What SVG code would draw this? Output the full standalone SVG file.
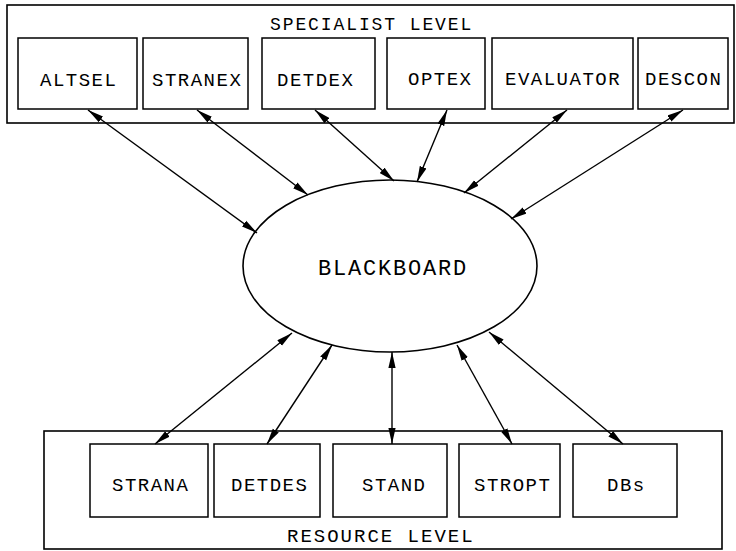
<svg xmlns="http://www.w3.org/2000/svg" width="736" height="551" viewBox="0 0 736 551">
  <defs>
    <marker id="head" viewBox="0 0 16 8" refX="16" refY="4" markerWidth="16" markerHeight="8" markerUnits="userSpaceOnUse" orient="auto-start-reverse">
      <path d="M0,0.4 L16,4 L0,7.6 z" fill="#000"/>
    </marker>
  </defs>
  <style>
    .frame { fill: #fff; stroke: #000; stroke-width: 1.6; }
    .box { fill: #fff; stroke: #000; stroke-width: 1.5; }
    .lbl { font-family: "Liberation Mono", "DejaVu Sans Mono", monospace; font-size: 19px; letter-spacing: 1.5px; fill: #000; }
    .lvl { font-family: "Liberation Mono", "DejaVu Sans Mono", monospace; font-size: 18px; letter-spacing: 1.9px; fill: #000; }
    .link { fill: none; stroke: #000; stroke-width: 1.4; marker-start: url(#head); marker-end: url(#head); }
  </style>
  <rect width="736" height="551" fill="#fff"/>

  <!-- specialist level -->
  <g id="specialist-level">
    <rect class="frame" x="7" y="5" width="727" height="118"/>
    <text class="lvl" x="270" y="30">SPECIALIST LEVEL</text>
  </g>
  <g id="altsel">
    <rect class="box" x="18" y="38" width="119" height="71"/>
    <text class="lbl" x="40" y="86">ALTSEL</text>
  </g>
  <g id="stranex">
    <rect class="box" x="143" y="38" width="105" height="71"/>
    <text class="lbl" x="152" y="86">STRANEX</text>
  </g>
  <g id="detdex">
    <rect class="box" x="262" y="38" width="113" height="71"/>
    <text class="lbl" x="277" y="86">DETDEX</text>
  </g>
  <g id="optex">
    <rect class="box" x="387" y="38" width="98" height="71"/>
    <text class="lbl" x="408" y="85">OPTEX</text>
  </g>
  <g id="evaluator">
    <rect class="box" x="492" y="38" width="141" height="71"/>
    <text class="lbl" x="505" y="85">EVALUATOR</text>
  </g>
  <g id="descon">
    <rect class="box" x="638" y="38" width="90" height="71"/>
    <text class="lbl" x="645" y="85">DESCON</text>
  </g>

  <!-- resource level -->
  <g id="resource-level">
    <rect class="frame" x="44" y="431" width="678" height="118"/>
    <text class="lvl" x="287" y="542" style="font-size:19px;letter-spacing:2px">RESOURCE LEVEL</text>
  </g>
  <g id="strana">
    <rect class="box" x="90" y="444" width="118" height="73"/>
    <text class="lbl" x="112" y="491">STRANA</text>
  </g>
  <g id="detdes">
    <rect class="box" x="214" y="444" width="106" height="73"/>
    <text class="lbl" x="231" y="491">DETDES</text>
  </g>
  <g id="stand">
    <rect class="box" x="333" y="444" width="114" height="73"/>
    <text class="lbl" x="362" y="491">STAND</text>
  </g>
  <g id="stropt">
    <rect class="box" x="459" y="444" width="101" height="73"/>
    <text class="lbl" x="474" y="491">STROPT</text>
  </g>
  <g id="dbs">
    <rect class="box" x="573" y="444" width="104" height="73"/>
    <text class="lbl" x="607" y="491">DBs</text>
  </g>

  <!-- blackboard -->
  <g id="blackboard">
    <ellipse cx="390" cy="266" rx="147" ry="86" fill="#fff" stroke="#000" stroke-width="1.6"/>
    <text x="318" y="275" font-family="Liberation Mono, DejaVu Sans Mono, monospace" font-size="22" letter-spacing="1.8">BLACKBOARD</text>
  </g>

  <!-- two-way links between the levels and the blackboard -->
  <g id="connectors">
    <line class="link" x1="88" y1="110" x2="257" y2="233"/>
    <line class="link" x1="197" y1="110" x2="308" y2="195"/>
    <line class="link" x1="315" y1="110" x2="394" y2="181"/>
    <line class="link" x1="447" y1="110" x2="417" y2="182"/>
    <line class="link" x1="567" y1="110" x2="464" y2="193"/>
    <line class="link" x1="683" y1="110" x2="511" y2="219"/>

    <line class="link" x1="155" y1="444" x2="292" y2="333"/>
    <line class="link" x1="267" y1="444" x2="332" y2="345"/>
    <line class="link" x1="392" y1="444" x2="392" y2="352"/>
    <line class="link" x1="512" y1="444" x2="457" y2="345"/>
    <line class="link" x1="623" y1="444" x2="489" y2="332"/>
  </g>
</svg>
